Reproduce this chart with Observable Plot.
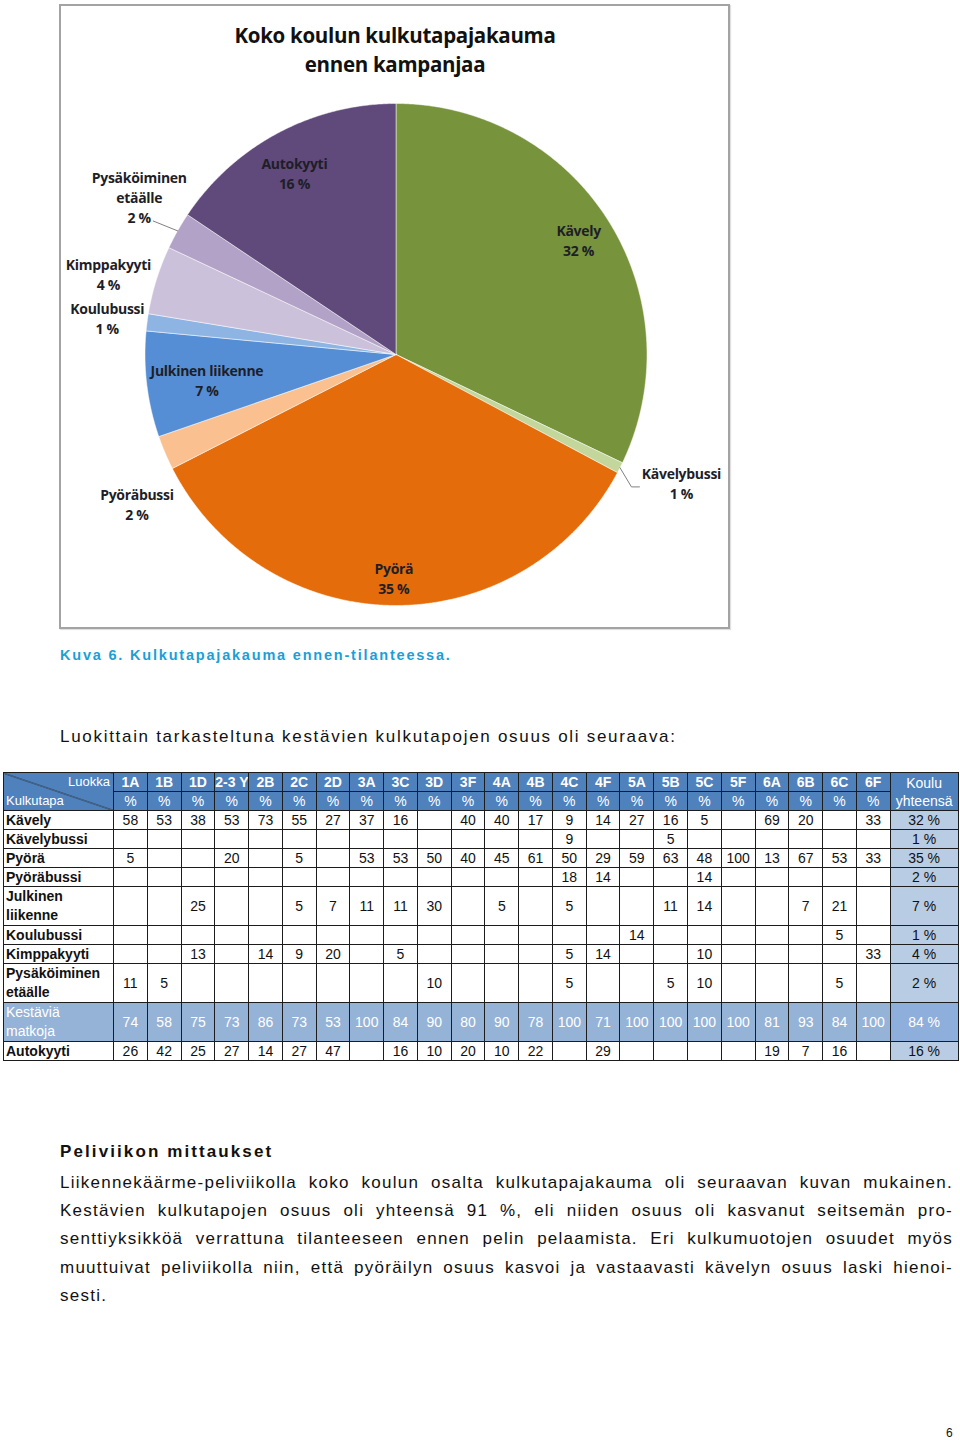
<!DOCTYPE html>
<html><head><meta charset="utf-8">
<script src="https://cdn.jsdelivr.net/npm/d3@7"></script>
<script src="https://cdn.jsdelivr.net/npm/@observablehq/plot@0.6"></script>
<style>
html,body{margin:0;padding:0;background:#fff;}
body{width:960px;height:1442px;position:relative;overflow:hidden;font-family:"Liberation Sans",Arial,sans-serif;color:#111;}
#frame{position:absolute;left:59px;top:4px;width:667px;height:621px;border:2px solid #a3a3a3;box-shadow:1px 1px 1px #e0e0e0;background:#fff;}
#frame svg{display:block;}
.abs{position:absolute;white-space:nowrap;}
#caption{left:60px;top:645px;font-size:14.5px;font-weight:bold;color:#1a9fd8;letter-spacing:1.8px;line-height:20px;}
#intro{left:60px;top:725px;font-size:17px;letter-spacing:1.7px;line-height:24px;}
#heading{left:60px;top:1140px;font-size:17px;font-weight:bold;letter-spacing:2.1px;line-height:24px;}
.pl{position:absolute;left:60px;width:893px;font-size:17px;line-height:24px;white-space:nowrap;text-align:justify;text-align-last:justify;letter-spacing:1.25px;}
.pl.last{text-align-last:left;}
#pagenum{left:946px;top:1425px;font-size:12px;line-height:16px;}
table{position:absolute;left:3px;top:772px;border-collapse:collapse;table-layout:fixed;width:955px;}
td,th{border:1.5px solid #1c1c1c;padding:0;text-align:center;white-space:nowrap;overflow:hidden;font-size:14px;line-height:18px;font-weight:normal;}
th{background:#4f81bd;color:#fff;}
th.cls{font-weight:bold;}
td.lab{text-align:left;font-weight:bold;padding-left:2px;}
td.tot{background:#b8cce4;}
tr.kest td{background:#95b3d7;color:#fff;}
tr.kest td.tot{background:#8eaedb;}
tr.kest td.lab{font-weight:normal;}
th.corner{position:relative;background:#4f81bd linear-gradient(to top right, transparent calc(50% - 0.7px), #2a2a2a 50%, transparent calc(50% + 0.7px));}
th.corner .a{position:absolute;right:3px;top:0;font-size:13px;}
th.corner .b{position:absolute;left:2px;bottom:0;font-size:13px;}
</style>
</head><body>
<div id="frame"></div>
<div id="caption" class="abs">Kuva 6. Kulkutapajakauma ennen-tilanteessa.</div>
<div id="intro" class="abs">Luokittain tarkasteltuna kestävien kulkutapojen osuus oli seuraava:</div>
<div id="tablewrap"></div>
<div id="heading" class="abs">Peliviikon mittaukset</div>
<div id="para"></div>
<div id="pagenum" class="abs">6</div>
<script>
// ---------- Pie chart data ----------
const pieModes = ["Kävely","Kävelybussi","Pyörä","Pyöräbussi","Julkinen liikenne","Koulubussi","Kimppakyyti","Pysäköiminen etäälle","Autokyyti"];
const pieShares = [32.1, 0.7, 34.7, 2.2, 6.8, 1.1, 4.4, 2.4, 15.6];
const pieColors = ["#77933c","#c3d69b","#e46c0a","#fac090","#558ed5","#8eb4e3","#ccc1da","#b3a2c7","#604a7b"];
const pieTitle = "Koko koulun kulkutapajakauma\nennen kampanjaa";

// ---------- Table data ----------
const classes = ["1A","1B","1D","2-3 Y","2B","2C","2D","3A","3C","3D","3F","4A","4B","4C","4F","5A","5B","5C","5F","6A","6B","6C","6F"];
const rowLabels = ["Kävely","Kävelybussi","Pyörä","Pyöräbussi","Julkinen liikenne","Koulubussi","Kimppakyyti","Pysäköiminen etäälle","Kestäviä matkoja","Autokyyti"];
const _ = null;
const kavely      = [58,53,38,53,73,55,27,37,16,_,40,40,17,9,14,27,16,5,_,69,20,_,33];
const kavelybussi = [_,_,_,_,_,_,_,_,_,_,_,_,_,9,_,_,5,_,_,_,_,_,_];
const pyora       = [5,_,_,20,_,5,_,53,53,50,40,45,61,50,29,59,63,48,100,13,67,53,33];
const pyorabussi  = [_,_,_,_,_,_,_,_,_,_,_,_,_,18,14,_,_,14,_,_,_,_,_];
const julkinen    = [_,_,25,_,_,5,7,11,11,30,_,5,_,5,_,_,11,14,_,_,7,21,_];
const koulubussi  = [_,_,_,_,_,_,_,_,_,_,_,_,_,_,_,14,_,_,_,_,_,5,_];
const kimppakyyti = [_,_,13,_,14,9,20,_,5,_,_,_,_,5,14,_,_,10,_,_,_,_,33];
const pysakointi  = [11,5,_,_,_,_,_,_,_,10,_,_,_,5,_,_,5,10,_,_,_,5,_];
const kestavia    = [74,58,75,73,86,73,53,100,84,90,80,90,78,100,71,100,100,100,100,81,93,84,100];
const autokyyti   = [26,42,25,27,14,27,47,_,16,10,20,10,22,_,29,_,_,_,_,19,7,16,_];
const totals      = [32,1,35,2,7,1,4,2,84,16];
const tableRows = [kavely,kavelybussi,pyora,pyorabussi,julkinen,koulubussi,kimppakyyti,pysakointi,kestavia,autokyyti];

// ---------- Text ----------
const paraLines = [
 "Liikennekäärme-peliviikolla koko koulun osalta kulkutapajakauma oli seuraavan kuvan mukainen.",
 "Kestävien kulkutapojen osuus oli yhteensä 91 %, eli niiden osuus oli kasvanut seitsemän pro-",
 "senttiyksikköä verrattuna tilanteeseen ennen pelin pelaamista. Eri kulkumuotojen osuudet myös",
 "muuttuivat peliviikolla niin, että pyöräilyn osuus kasvoi ja vastaavasti kävelyn osuus laski hienoi-",
 "sesti."
];

// ---------- Pie with Plot ----------
const W = 667, H = 621, cx = 334.5, cy = 348, R = 251;
const arcs = d3.pie().sort(null).value(d => d)(pieShares);
const slicePts = [];
arcs.forEach((a, i) => {
  const cat = pieModes[i];
  slicePts.push({cat, u: 0, v: 0});
  const n = Math.max(2, Math.ceil((a.endAngle - a.startAngle) / 0.005));
  for (let j = 0; j <= n; j++) {
    const t = a.startAngle + (a.endAngle - a.startAngle) * j / n;
    slicePts.push({cat, u: Math.sin(t), v: -Math.cos(t)});
  }
  slicePts.push({cat, u: 0, v: 0});
});
// label placement (radius factor k, angle shift in degrees)
const labelLayout = {
  "Kävely": {k: 0.86, da: 0},
  "Kävelybussi": {k: 1.247, da: -2.6},
  "Pyörä": {k: 0.89, da: 0},
  "Pyöräbussi": {k: 1.19, da: -6.8},
  "Julkinen liikenne": {k: 0.76, da: -0.8},
  "Koulubussi": {k: 1.16, da: 0},
  "Kimppakyyti": {k: 1.19, da: -1.6},
  "Pysäköiminen etäälle": {k: 1.2, da: 2},
  "Autokyyti": {k: 0.83, da: -1.1}
};
const labels = arcs.map((a, i) => {
  const cat = pieModes[i], L = labelLayout[cat];
  const m = (a.startAngle + a.endAngle) / 2 + L.da * Math.PI / 180;
  const name = cat === "Pysäköiminen etäälle" ? "Pysäköiminen\netäälle" : cat;
  return {cat, mid: (a.startAngle + a.endAngle) / 2, u: L.k * Math.sin(m), v: -L.k * Math.cos(m),
          text: name + "\n" + Math.round(pieShares[i]) + " %"};
});
const px = 1 / R;
const leaders = [];
{
  const kb = labels[1];
  leaders.push({id: "kb", u: Math.sin(kb.mid), v: -Math.cos(kb.mid)});
  leaders.push({id: "kb", u: kb.u - 50 * px, v: kb.v + 4 * px});
  leaders.push({id: "kb", u: kb.u - 42 * px, v: kb.v + 4 * px});
  const pe = labels[7];
  leaders.push({id: "pe", u: Math.sin(pe.mid), v: -Math.cos(pe.mid)});
  leaders.push({id: "pe", u: pe.u + 14 * px, v: pe.v + 24 * px});
}
const font = "'Open Sans',sans-serif";
const chart = Plot.plot({
  width: W, height: H, margin: 0,
  x: {domain: [-cx / R, (W - cx) / R], range: [0, W], axis: null},
  y: {domain: [-cy / R, (H - cy) / R], range: [0, H], axis: null},
  color: {domain: pieModes, range: pieColors},
  style: {background: "#fff", overflow: "visible", letterSpacing: "-0.3px"},
  marks: [
    Plot.line(slicePts, {x: "u", y: "v", z: "cat", fill: "cat", stroke: "#fff", strokeWidth: 0.5, curve: "linear"}),
    Plot.line(leaders, {x: "u", y: "v", z: "id", stroke: "#808080", strokeWidth: 1}),
    Plot.text(labels, {x: "u", y: "v", text: "text", fontSize: 14, fontWeight: "bold", fill: "#1e1e28",
      fontFamily: font, lineHeight: 1.43, lineAnchor: "middle"}),
    Plot.text([pieTitle], {frameAnchor: "top", dy: 41.5, text: d => d, lineAnchor: "middle", fontSize: 20.5,
      fontWeight: "bold", fill: "#111", fontFamily: font, lineHeight: 1.41})
  ]
});
document.getElementById("frame").appendChild(chart);

// ---------- Table ----------
const rowHeights = [18,18,18,18,37,18,18,38,37,19];
let html = "<table><colgroup><col style='width:110px'>" + classes.map(() => "<col style='width:33.78px'>").join("") + "<col style='width:68px'></colgroup>";
html += "<tr style='height:18px'><th class='corner' rowspan='2'><span class='a'>Luokka</span><span class='b'>Kulkutapa</span></th>" +
  classes.map(c => `<th class='cls'>${c}</th>`).join("") + "<th rowspan='2'>Koulu<br>yhteensä</th></tr>";
html += "<tr style='height:18px'>" + classes.map(() => "<th>%</th>").join("") + "</tr>";
tableRows.forEach((vals, r) => {
  const twoLine = r === 4 || r === 7 || r === 8;
  const lab = twoLine ? rowLabels[r].replace(" ", "<br>") : rowLabels[r];
  const cls = r === 8 ? " class='kest'" : "";
  html += `<tr${cls} style='height:${rowHeights[r]}px'><td class='lab'${twoLine ? " style='line-height:19px'" : ""}>${lab}</td>` +
    vals.map(v => `<td>${v == null ? "" : v}</td>`).join("") + `<td class='tot'>${totals[r]} %</td></tr>`;
});
html += "</table>";
document.getElementById("tablewrap").innerHTML = html;

// ---------- Paragraph ----------
const para = document.getElementById("para");
paraLines.forEach((t, i) => {
  const d = document.createElement("div");
  d.className = "pl" + (i === paraLines.length - 1 ? " last" : "");
  d.style.top = (1171 + i * 28.2) + "px";
  d.textContent = t;
  para.appendChild(d);
});
</script>
</body></html>
